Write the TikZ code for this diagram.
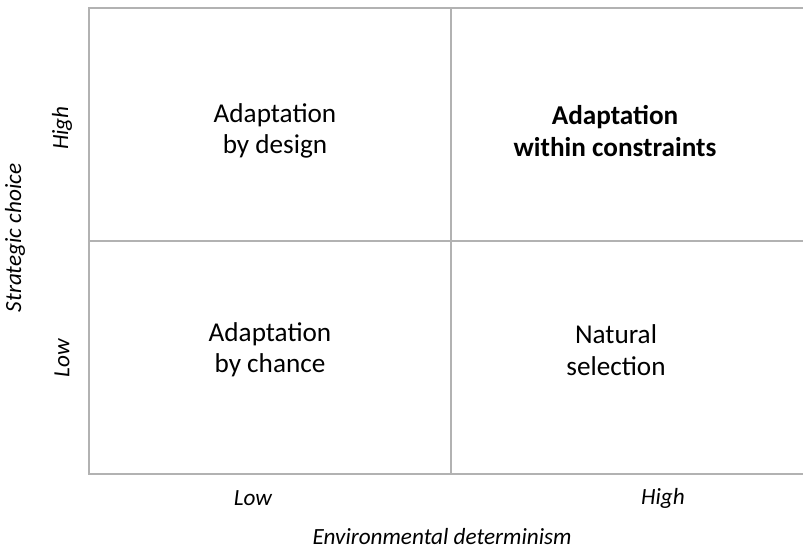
\documentclass[tikz,border=0pt]{standalone}
\usepackage{fontspec}
\setmainfont{Carlito}
\usetikzlibrary{positioning}

\begin{document}
\begin{tikzpicture}[
    x=0.5pt, y=-0.5pt,
    grid/.style={draw=black!30, line width=1pt},
    cell/.style={align=center, font=\fontsize{13.6}{15.7}\selectfont},
    axislabel/.style={font=\fontsize{11.6}{13}\selectfont\itshape}
]
    \clip (0,0) rectangle (803,548);
    \useasboundingbox (0,0) rectangle (803,548);

    % Grid
    \draw[grid] (89,8) rectangle (813,474);
    \draw[grid] (451,8) -- (451,474);
    \draw[grid] (89,241) -- (813,241);

    % Quadrants
    \node[cell] (design) at (275,131) {Adaptation\\by design};
    \node[cell, font=\fontsize{13.6}{15.7}\selectfont\bfseries] (constraints) at (615,131) {Adaptation\\within constraints};
    \node[cell] (chance) at (270,350) {Adaptation\\by chance};
    \node[cell] (selection) at (616,350) {Natural\\selection};

    % Axes
    \node[axislabel, rotate=90] (choicehigh) at (62,128) {High};
    \node[axislabel, rotate=90] (choicelow) at (62,358) {Low};
    \node[axislabel, rotate=90] (choice) at (15,238) {Strategic choice};
    \node[axislabel] (envlow) at (253,498) {Low};
    \node[axislabel] (envhigh) at (663,498) {High};
    \node[axislabel] (env) at (442,537) {Environmental determinism};
\end{tikzpicture}
\end{document}
